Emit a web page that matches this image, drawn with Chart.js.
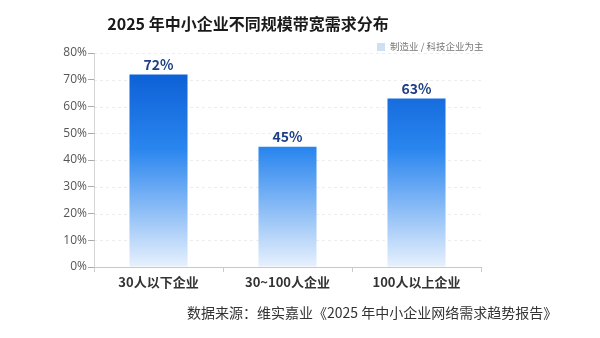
<!DOCTYPE html>
<html>
<head>
<meta charset="utf-8">
<script src="https://cdn.jsdelivr.net/npm/chart.js@4"></script>
<style>
  html, body { margin: 0; padding: 0; background: #ffffff; }
  #wrap { position: relative; width: 600px; height: 338px; }
  #title {
    position: absolute; left: 48px; width: 400px; top: 11px; text-align: center;
    font-family: "Noto Sans CJK SC", "Noto Sans", sans-serif;
    font-size: 16px; font-weight: bold; color: #1a1a1a; white-space: nowrap;
  }
  #legend {
    position: absolute; left: 377px; top: 39px;
    font-family: "Noto Sans CJK SC", "Noto Sans", sans-serif;
    font-size: 9.5px; color: #777; white-space: nowrap;
  }
  #legend span {
    display: inline-block; width: 8px; height: 8px; background: #cfe0f5;
    margin-right: 5px; vertical-align: -1px;
  }
  #source {
    position: absolute; left: 187px; top: 302px;
    font-family: "Noto Sans CJK SC", "Noto Sans", sans-serif;
    font-size: 14px; color: #333; white-space: nowrap;
  }
</style>
</head>
<body>
<div id="wrap">
  <canvas id="bwChart" width="600" height="338"></canvas>
  <div id="title">2025 年中小企业不同规模带宽需求分布</div>
  <div id="legend"><span></span>制造业 / 科技企业为主</div>
  <div id="source">数据来源：维实嘉业《2025 年中小企业网络需求趋势报告》</div>
</div>
<script>
// 数据
const categories = ['30人以下企业', '30~100人企业', '100人以上企业'];
const demandValues = [72, 45, 63];
const yTicks = [0, 10, 20, 30, 40, 50, 60, 70, 80];
const seriesName = '制造业 / 科技企业为主';

const fontCJK = '"Noto Sans CJK SC", "Noto Sans", sans-serif';

// 柱子顶部的百分比标签
const valueLabels = {
  id: 'valueLabels',
  afterDatasetsDraw(chart) {
    const ctx = chart.ctx;
    const meta = chart.getDatasetMeta(0);
    ctx.save();
    ctx.font = 'bold 14px ' + fontCJK;
    ctx.fillStyle = '#1d3f86';
    ctx.textAlign = 'center';
    ctx.textBaseline = 'bottom';
    meta.data.forEach((bar, i) => {
      ctx.fillText(demandValues[i] + '%', bar.x, bar.y - 3);
    });
    ctx.restore();
  }
};

// 网格虚线
const dashGrid = {
  id: 'dashGrid',
  beforeDatasetsDraw(chart) {
    const { ctx, chartArea, scales } = chart;
    ctx.save();
    ctx.strokeStyle = 'rgba(0,0,0,0.07)';
    ctx.setLineDash([3, 3]);
    ctx.lineWidth = 1;
    yTicks.slice(1).forEach(v => {
      const y = Math.round(scales.y.getPixelForValue(v)) + 0.5;
      ctx.beginPath();
      ctx.moveTo(chartArea.left, y);
      ctx.lineTo(chartArea.right, y);
      ctx.stroke();
    });
    ctx.restore();
  }
};

// 蓝色渐变
const barGradient = (context) => {
  const area = context.chart.chartArea;
  if (!area) return '#2d8af0';
  const g = context.chart.ctx.createLinearGradient(0, area.top, 0, area.bottom);
  g.addColorStop(0, '#0556cf');
  g.addColorStop(0.45, '#2a86ef');
  g.addColorStop(1, '#e8f1fd');
  return g;
};

new Chart(document.getElementById('bwChart'), {
  type: 'bar',
  data: {
    labels: categories,
    datasets: [{
      label: seriesName,
      data: demandValues,
      backgroundColor: barGradient,
      barPercentage: 0.45,
      categoryPercentage: 1
    }]
  },
  options: {
    responsive: false,
    animation: false,
    layout: { padding: { left: 20, right: 119, top: 53, bottom: 41 } },
    plugins: {
      title: { display: false },
      legend: { display: false },
      tooltip: { enabled: false }
    },
    scales: {
      y: {
        min: 0,
        max: 80,
        afterFit: (scale) => { scale.width = 74; },
        afterBuildTicks: (scale) => { scale.ticks = yTicks.map(v => ({ value: v })); },
        ticks: {
          color: '#555',
          padding: 1,
          font: { family: '"Open Sans", "Noto Sans", sans-serif', size: 12 },
          callback: (v) => v + '%'
        },
        grid: {
          drawOnChartArea: false,
          tickColor: '#aaa',
          tickLength: 6
        },
        border: { color: '#d6d6d6' }
      },
      x: {
        afterFit: (scale) => { scale.height = 30; },
        ticks: {
          color: '#333',
          padding: 2,
          font: { family: fontCJK, size: 13, weight: 'bold' }
        },
        border: { color: '#c8c8c8' },
        grid: {
          offset: true,
          drawOnChartArea: false,
          tickColor: '#ccc',
          tickLength: 5
        }
      }
    }
  },
  plugins: [valueLabels, dashGrid]
});
</script>
</body>
</html>
